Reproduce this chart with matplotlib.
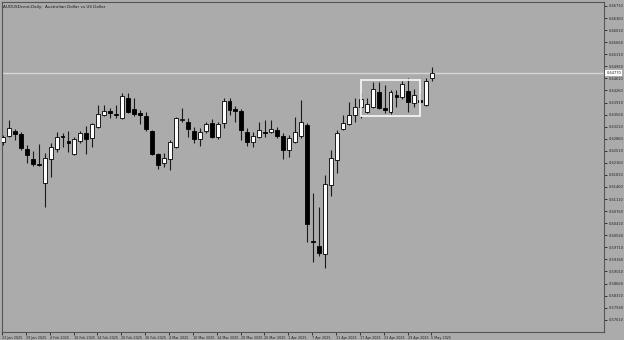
import matplotlib.pyplot as plt
import matplotlib.patches as patches
import matplotlib.transforms as mtransforms

# AUDUSD daily bars, 23 Jan 2025 .. 5 May 2025
opens = [0.6277, 0.6294, 0.6308, 0.6300, 0.6256, 0.6227, 0.6212, 0.6158, 0.6227, 0.6256,
         0.6294, 0.6279, 0.6242, 0.6279, 0.6303, 0.6288, 0.6320, 0.6355, 0.6366, 0.6358,
         0.6346, 0.6404, 0.6372, 0.6361, 0.6352, 0.6308, 0.6242, 0.6216, 0.6227, 0.6262,
         0.6340, 0.6335, 0.6308, 0.6285, 0.6308, 0.6332, 0.6291, 0.6332, 0.6395, 0.6372,
         0.6366, 0.6306, 0.6277, 0.6291, 0.6305, 0.6306, 0.6311, 0.6294, 0.6253, 0.6277,
         0.6294, 0.6326, 0.5989, 0.5975, 0.5952, 0.6152, 0.6224, 0.6314, 0.6329, 0.6355,
         0.6378, 0.6364, 0.6378, 0.6422, 0.6375, 0.6364, 0.6413, 0.6407, 0.6424, 0.6390,
         0.6398, 0.6384, 0.6462]
highs = [0.6297, 0.6340, 0.6314, 0.6306, 0.6268, 0.6250, 0.6271, 0.6245, 0.6274, 0.6306,
         0.6303, 0.6308, 0.6291, 0.6308, 0.6323, 0.6332, 0.6384, 0.6384, 0.6375, 0.6384,
         0.6419, 0.6419, 0.6404, 0.6369, 0.6364, 0.6311, 0.6245, 0.6245, 0.6282, 0.6349,
         0.6375, 0.6346, 0.6320, 0.6317, 0.6335, 0.6343, 0.6335, 0.6404, 0.6404, 0.6381,
         0.6372, 0.6317, 0.6306, 0.6335, 0.6340, 0.6340, 0.6320, 0.6303, 0.6297, 0.6349,
         0.6398, 0.6332, 0.6129, 0.6088, 0.6181, 0.6253, 0.6311, 0.6355, 0.6393, 0.6404,
         0.6419, 0.6404, 0.6451, 0.6451, 0.6442, 0.6427, 0.6427, 0.6453, 0.6462, 0.6430,
         0.6419, 0.6462, 0.6494]
lows = [0.6268, 0.6291, 0.6282, 0.6253, 0.6216, 0.6207, 0.6207, 0.6088, 0.6175, 0.6248,
        0.6262, 0.6248, 0.6239, 0.6274, 0.6242, 0.6262, 0.6318, 0.6352, 0.6346, 0.6346,
        0.6343, 0.6361, 0.6352, 0.6329, 0.6308, 0.6239, 0.6198, 0.6204, 0.6195, 0.6259,
        0.6335, 0.6291, 0.6274, 0.6265, 0.6303, 0.6288, 0.6285, 0.6317, 0.6355, 0.6335,
        0.6282, 0.6265, 0.6262, 0.6288, 0.6291, 0.6303, 0.6288, 0.6227, 0.6233, 0.6274,
        0.6288, 0.5987, 0.5929, 0.5946, 0.5911, 0.6120, 0.6187, 0.6311, 0.6326, 0.6335,
        0.6346, 0.6361, 0.6375, 0.6372, 0.6361, 0.6358, 0.6378, 0.6401, 0.6364, 0.6378,
        0.6390, 0.6381, 0.6453]
closes = [0.6291, 0.6317, 0.6300, 0.6259, 0.6239, 0.6213, 0.6210, 0.6230, 0.6262, 0.6291,
          0.6290, 0.6274, 0.6285, 0.6303, 0.6285, 0.6329, 0.6358, 0.6366, 0.6361, 0.6355,
          0.6410, 0.6364, 0.6358, 0.6355, 0.6314, 0.6242, 0.6210, 0.6230, 0.6277, 0.6346,
          0.6342, 0.6314, 0.6285, 0.6306, 0.6329, 0.6291, 0.6329, 0.6395, 0.6369, 0.6366,
          0.6311, 0.6277, 0.6294, 0.6311, 0.6304, 0.6314, 0.6294, 0.6253, 0.6288, 0.6306,
          0.6335, 0.6039, 0.5987, 0.5955, 0.6155, 0.6230, 0.6303, 0.6332, 0.6355, 0.6378,
          0.6401, 0.6387, 0.6430, 0.6375, 0.6369, 0.6422, 0.6407, 0.6445, 0.6393, 0.6413,
          0.6393, 0.6453, 0.6477]

date_labels = ['23 Jan 2025', '29 Jan 2025', '4 Feb 2025', '10 Feb 2025', '14 Feb 2025',
               '20 Feb 2025', '26 Feb 2025', '4 Mar 2025', '10 Mar 2025', '14 Mar 2025',
               '20 Mar 2025', '26 Mar 2025', '1 Apr 2025', '7 Apr 2025', '11 Apr 2025',
               '17 Apr 2025', '23 Apr 2025', '29 Apr 2025', '5 May 2025']
price_ticks = [0.66710 - 0.0035 * k for k in range(27)]
bid = 0.64770
box_bars = [60, 70]
box_prices = [0.6352, 0.6456]

bg = '#ababab'
fig = plt.figure(figsize=(6.24, 3.40), dpi=100, facecolor=bg)
ax = fig.add_axes([2 / 624, 8 / 340, 602 / 624, 330 / 340], facecolor=bg)

x = list(range(len(opens)))
ax.vlines(x, lows, highs, color='#1a1a1a', lw=0.8, zorder=2)
for i in x:
    o, c = opens[i], closes[i]
    up = c > o
    h = max(abs(c - o), 0.00005)
    ax.bar(i, h, bottom=min(o, c), width=0.66,
           color='white' if up else 'black', edgecolor='black', lw=0.6, zorder=3)

# bid line and the drawn rectangle
ax.axhline(bid, color='#d6d6d6', lw=1, zorder=1)
rect = patches.Rectangle((box_bars[0], box_prices[0]), box_bars[1] - box_bars[0],
                         box_prices[1] - box_prices[0], fill=False,
                         edgecolor='#f2f2f2', lw=1.3, zorder=4)
ax.add_patch(rect)

ax.set_xlim(0.1, 100.8)
ax.set_ylim(0.57255, 0.66825)

for s in ax.spines.values():
    s.set_color('#555555')
    s.set_linewidth(0.8)

ax.yaxis.tick_right()
ax.set_yticks(price_ticks)
ax.set_yticklabels(['%.5f' % p for p in price_ticks])
ax.tick_params(axis='y', length=2.5, width=0.6, pad=0.8, labelsize=2.6, colors='#222222')

ax.set_xticks([4 * k - 0.15 for k in range(len(date_labels))])
ax.set_xticklabels(date_labels)
ax.tick_params(axis='x', length=2.5, width=0.6, pad=0.3, labelsize=2.4, colors='#222222')
for lab in ax.get_xticklabels():
    lab.set_horizontalalignment('left')

# current price tag on the scale
tr = mtransforms.blended_transform_factory(ax.transAxes, ax.transData)
ax.text(1.004, bid, '%.5f' % bid, transform=tr, fontsize=2.6, va='center', ha='left',
        color='#222222', bbox=dict(boxstyle='square,pad=0.3', fc='white', ec='none'),
        zorder=5, clip_on=False)

ax.text(0.002, 0.992, 'AUDUSDcent,Daily:  Australian Dollar vs US Dollar',
        transform=ax.transAxes, fontsize=3.0, va='top', ha='left', color='#1a1a1a')

fig.savefig('out.png', dpi=100, facecolor=bg)
